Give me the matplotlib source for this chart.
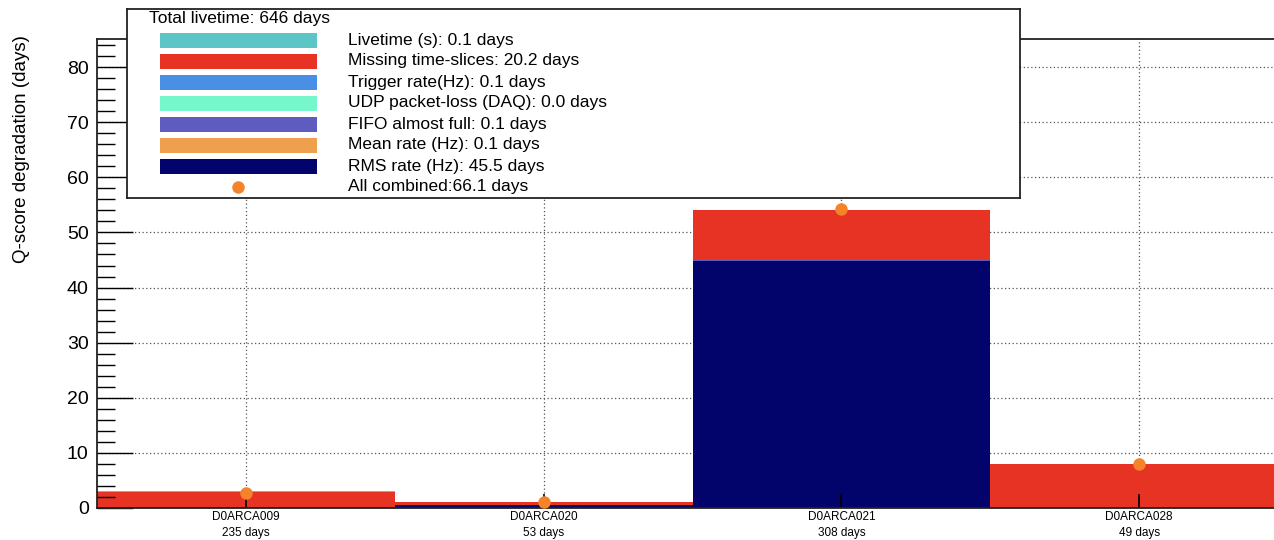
import matplotlib
matplotlib.use('Agg')
import matplotlib.pyplot as plt
import numpy as np

plt.rcParams['font.family'] = ['Liberation Sans', 'DejaVu Sans']

# detector units and their livetime
units = ['D0ARCA009', 'D0ARCA020', 'D0ARCA021', 'D0ARCA028']
livetime_days = [235, 53, 308, 49]
total_livetime = 646

# degradation per quality criterion (days), stacked bottom -> top
rms_rate = [0.2, 0.5, 44.8, 0.0]
mean_rate = [0.02, 0.01, 0.07, 0.0]
fifo_full = [0.02, 0.01, 0.07, 0.0]
udp_loss = [0.0, 0.0, 0.0, 0.0]
trigger_rate = [0.03, 0.02, 0.05, 0.0]
missing_slices = [2.7, 0.5, 9.1, 7.9]
livetime_cut = [0.05, 0.02, 0.03, 0.0]
all_combined = [2.8, 1.1, 54.2, 8.0]

# legend order
series = [
    ('Livetime (s)', livetime_cut, '#5cc5c6'),
    ('Missing time-slices', missing_slices, '#e63323'),
    ('Trigger rate(Hz)', trigger_rate, '#4a8fe6'),
    ('UDP packet-loss (DAQ)', udp_loss, '#76f6cb'),
    ('FIFO almost full', fifo_full, '#5e5dbf'),
    ('Mean rate (Hz)', mean_rate, '#efa04e'),
    ('RMS rate (Hz)', rms_rate, '#02046b'),
]
marker_color = '#f5832a'

W, H = 1274, 540
fig = plt.figure(figsize=(W / 100, H / 100), dpi=100)
ax = fig.add_axes([97 / W, 32 / H, (1288 - 97) / W, (508 - 39) / H])

x = np.arange(len(units)) + 0.5

# grid under the bars
for yv in range(10, 90, 10):
    ax.axhline(yv, color='#555555', ls=(0, (1, 2)), lw=0.9, zorder=0.5)
for xv in x:
    ax.axvline(xv, color='#555555', ls=(0, (1, 2)), lw=0.9, zorder=0.5)

bottom = np.zeros(len(units))
for name, vals, col in reversed(series):
    ax.bar(x, vals, width=1.0, bottom=bottom, color=col, lw=0, zorder=1)
    bottom += np.array(vals)

ax.plot(x, all_combined, 'o', color=marker_color, ms=9, mec='none', zorder=3)

ax.set_xlim(0, 4)
ax.set_ylim(0, 85.1)
ax.set_yticks(range(0, 90, 10))
ax.set_yticks(np.arange(0, 86, 2), minor=True)
ax.set_xticks(x)
ax.set_xticklabels(['{}\n{} days'.format(u, d) for u, d in zip(units, livetime_days)],
                   fontsize=8.5, linespacing=1.35)
ax.tick_params(axis='y', which='major', direction='in', length=26, width=1,
               labelsize=14, pad=6)
ax.tick_params(axis='y', which='minor', direction='in', length=13, width=1)
ax.tick_params(axis='x', which='major', direction='in', length=10, width=1.2, pad=2.5)
for s in ax.spines.values():
    s.set_linewidth(1.3)
    s.set_color('#222222')

fig.text(22 / W, 1 - 35 / H, 'Q-score degradation (days)', rotation=90,
         ha='center', va='top', fontsize=13.5)

# legend box
lg = fig.add_axes([127 / W, 1 - 198 / H, (1020 - 127) / W, (198 - 9) / H], zorder=5)
lg.set_xlim(127, 1020)
lg.set_ylim(198, 9)
lg.set_xticks([])
lg.set_yticks([])
for s in lg.spines.values():
    s.set_linewidth(1.3)
    s.set_color('#222222')
lg.text(149, 18, 'Total livetime: {} days'.format(total_livetime), va='center',
        fontsize=12.5)
row_y = [40, 61, 82, 103, 124, 145, 166]
for (name, vals, col), yy in zip(series, row_y):
    lg.add_patch(plt.Rectangle((160, yy - 7.5), 157, 15, color=col, lw=0))
    lg.text(348, yy, '{}: {:.1f} days'.format(name, sum(vals)), va='center',
            fontsize=12.5)
lg.plot([238], [187], 'o', color=marker_color, ms=9, mec='none')
lg.text(348, 187, 'All combined:{:.1f} days'.format(sum(all_combined)), va='center',
        fontsize=12.5)

fig.savefig('out.png', dpi=100)
